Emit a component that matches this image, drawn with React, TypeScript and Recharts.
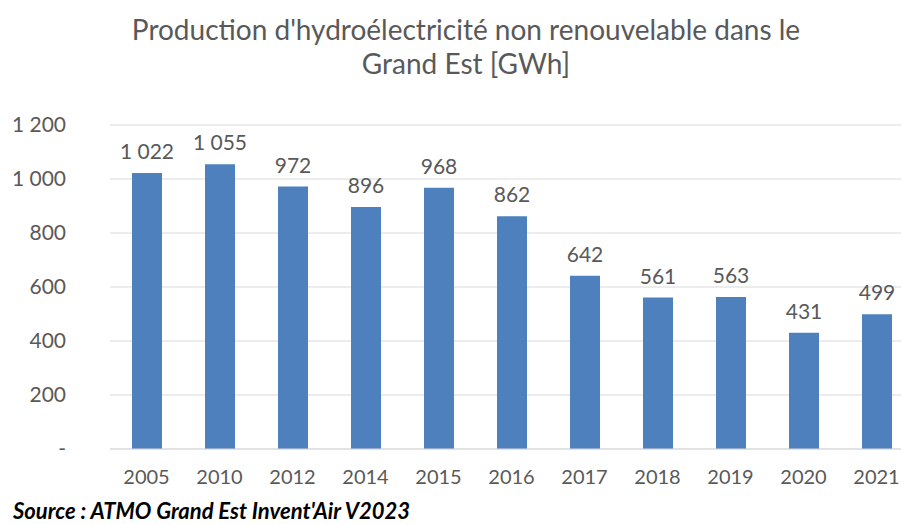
import { Bar, BarChart, CartesianGrid, XAxis, YAxis } from "recharts";

const annees = ["2005", "2010", "2012", "2014", "2015", "2016", "2017", "2018", "2019", "2020", "2021"];
const productionGWh = [1022, 1055, 972, 896, 968, 862, 642, 561, 563, 431, 499];
const yTicks = [0, 200, 400, 600, 800, 1000, 1200];

const data = annees.map((annee, i) => ({ annee, valeur: productionGWh[i] }));

const FONT = "Lato, 'Noto Sans', sans-serif";
const GRIS = "#595959";

function fmt(v: number): string {
  if (v === 0) return "-";
  return String(v).replace(/\B(?=(\d{3})+(?!\d))/g, " ");
}

// étiquette au-dessus de la barre, sans retour à la ligne
function ValeurLabel(props: any) {
  const { x, y, width, value } = props;
  return (
    <text
      x={Number(x) + Number(width) / 2}
      y={Number(y) - 14}
      textAnchor="middle"
      fontSize={21}
      fill={GRIS}
      fontFamily={FONT}
    >
      {fmt(Number(value))}
    </text>
  );
}

export default function App() {
  return (
    <div
      style={{
        position: "absolute",
        left: 0,
        top: 0,
        width: 901,
        height: 524,
        overflow: "hidden",
        background: "#fff",
        fontFamily: FONT,
      }}
    >
      <div
        style={{
          position: "absolute",
          left: 0,
          width: 932,
          top: 12,
          textAlign: "center",
          fontSize: 28,
          lineHeight: "34px",
          color: GRIS,
        }}
      >
        Production d'hydroélectricité non renouvelable dans le
        <br />
        Grand Est [GWh]
      </div>
      <BarChart
        width={913}
        height={524}
        data={data}
        margin={{ top: 125, right: 0, bottom: 40, left: 0 }}
      >
        <CartesianGrid vertical={false} stroke="#d9d9d9" />
        <XAxis
          dataKey="annee"
          height={35}
          axisLine={{ stroke: "#d9d9d9" }}
          tickLine={false}
          tickSize={0}
          tickMargin={21}
          tick={{ fontSize: 20, fill: GRIS, fontFamily: FONT }}
          interval={0}
        />
        <YAxis
          width={110}
          domain={[0, 1200]}
          ticks={yTicks}
          axisLine={false}
          tickLine={false}
          tickSize={0}
          tickMargin={44}
          tickFormatter={fmt}
          tick={{ fontSize: 21, fill: GRIS, fontFamily: FONT }}
        />
        <Bar
          dataKey="valeur"
          fill="#4e80bd"
          barSize={30}
          isAnimationActive={false}
          label={<ValeurLabel />}
        />
      </BarChart>
      <div
        style={{
          position: "absolute",
          left: 13,
          top: 497,
          fontSize: 22,
          fontWeight: "bold",
          fontStyle: "italic",
          color: "#000",
          whiteSpace: "nowrap",
        }}
      >
        Source : ATMO Grand Est Invent'Air V2023
      </div>
    </div>
  );
}
